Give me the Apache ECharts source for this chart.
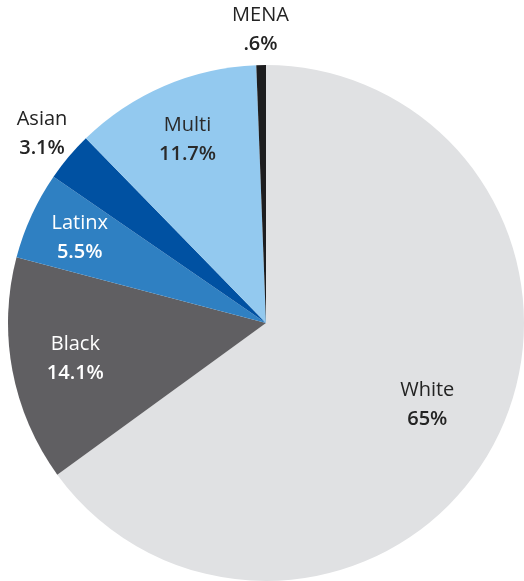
<!DOCTYPE html>
<html>
<head>
<meta charset="utf-8">
<script src="https://cdn.jsdelivr.net/npm/echarts@6/dist/echarts.min.js"></script>
<style>
  html, body { margin: 0; padding: 0; background: #ffffff; }
  #chart { width: 524px; height: 581px; }
</style>
</head>
<body>
<div id="chart"></div>
<script>
// Share of respondents by race / ethnicity (percent), clockwise from 12 o'clock
const groups = ['White', 'Black', 'Latinx', 'Asian', 'Multi', 'MENA'];
const shares = [65, 14.1, 5.5, 3.1, 11.7, 0.6];
const shareLabels = ['65%', '14.1%', '5.5%', '3.1%', '11.7%', '.6%'];

const sliceColors = {
  White: '#e0e1e3', Black: '#605f62', Latinx: '#2f80c2',
  Asian: '#0051a2', Multi: '#93c9ef', MENA: '#1d1d1f'
};
const textColors = {
  White: '#232323', Black: '#ffffff', Latinx: '#ffffff',
  Asian: '#232323', Multi: '#2a2a2a', MENA: '#232323'
};

const FONT = '"Open Sans", "Noto Sans", sans-serif';
const CENTER = [266, 323];
const R = 258;

// Main pie: sectors only
const mainSeries = {
  type: 'pie',
  center: CENTER,
  radius: [0, R],
  startAngle: 90,
  clockwise: true,
  silent: true,
  label: { show: false },
  labelLine: { show: false },
  data: groups.map((g, i) => ({
    name: g, value: shares[i],
    itemStyle: { color: sliceColors[g] }
  }))
};

// Transparent rings that carry the labels at a chosen distance from the centre
function labelRing(outer, shown) {
  return {
    type: 'pie',
    center: CENTER,
    radius: [0, outer],
    startAngle: 90,
    clockwise: true,
    silent: true,
    z: 5,
    itemStyle: { color: 'rgba(0,0,0,0)' },
    labelLine: { show: false },
    data: groups.map((g, i) => ({
      name: g, value: shares[i],
      label: {
        show: shown.indexOf(g) >= 0,
        position: 'inside',
        formatter: () => '{n|' + g + '}\n{v|' + shareLabels[i] + '}',
        rich: {
          n: { fontFamily: FONT, fontSize: 20, fontWeight: 400, color: textColors[g], lineHeight: 29, align: 'center' },
          v: { fontFamily: FONT, fontSize: 20, fontWeight: 600, color: textColors[g], lineHeight: 29, align: 'center' }
        }
      }
    }))
  };
}

const chart = echarts.init(document.getElementById('chart'), null, { renderer: 'canvas' });
chart.setOption({
  animation: false,
  backgroundColor: '#ffffff',
  series: [
    mainSeries,
    labelRing(356, ['White']),
    labelRing(382, ['Black']),
    labelRing(392, ['Multi']),
    labelRing(404, ['Latinx']),
    labelRing(580, ['Asian', 'MENA'])
  ]
});
</script>
</body>
</html>
